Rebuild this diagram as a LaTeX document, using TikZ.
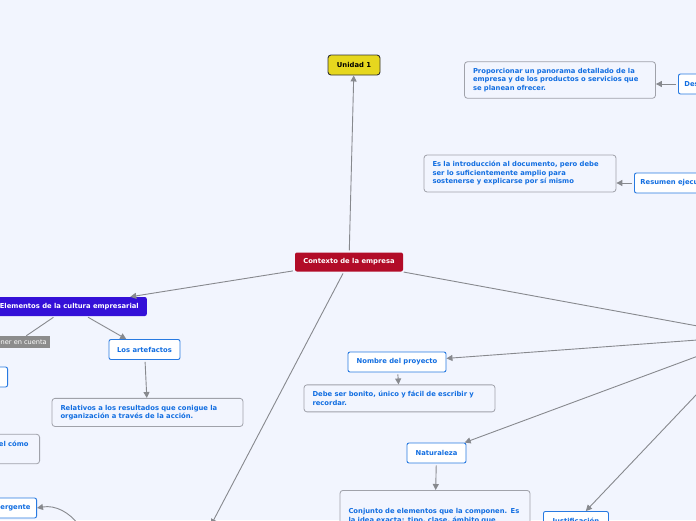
\documentclass[tikz,border=0pt]{standalone}
\usepackage{fontspec}
\setmainfont{DejaVu Sans}
\usetikzlibrary{positioning, arrows.meta}
\definecolor{bgmap}{RGB}{242,245,254}
\definecolor{ctxred}{RGB}{178,12,40}
\definecolor{elemblue}{RGB}{52,16,216}
\definecolor{unityellow}{RGB}{230,215,30}
\definecolor{topicblue}{RGB}{40,122,225}
\definecolor{textblue}{RGB}{18,110,225}
\definecolor{notegray}{RGB}{160,162,170}
\definecolor{edgegray}{RGB}{135,137,142}
\definecolor{labelgray}{RGB}{140,140,140}

\begin{document}
\begin{tikzpicture}[
        x = 1pt, y = -1pt,
        every node/.style = {font=\fontsize{6.8}{8.5}\selectfont\bfseries},
        topic/.style = {draw=topicblue, fill=white, line width=0.9pt, rounded corners=2pt, text=textblue, minimum height=20pt, inner xsep=6pt, inner ysep=0pt},
        note/.style = {draw=notegray, fill=bgmap, line width=0.8pt, rounded corners=3pt, text=textblue, align=left, inner xsep=8.5pt, inner ysep=6.5pt},
        root/.style = {fill=ctxred, text=white, rounded corners=2pt, minimum height=19pt, inner xsep=8pt, inner ysep=0pt},
        arrow/.style = {-{Triangle[length=6pt, width=6pt]}, draw=edgegray, line width=0.9pt, shorten <=2pt},
        link/.style = {draw=edgegray, line width=0.9pt, shorten <=2pt},
    ]
        \useasboundingbox (0,0) rectangle (696,520);
        \fill[bgmap] (0,0) rectangle (696,520);
        \clip (0,0) rectangle (696,520);

        % centre and top
        \node[root, minimum width=108pt] (ctx) at (349,262) {Contexto de la empresa};
        \node[draw=black!80, fill=unityellow, line width=0.9pt, rounded corners=3pt, minimum width=52pt, minimum height=20pt] (unidad) at (354,65) {Unidad 1};

        % right branch
        \coordinate (hub) at (752,336);
        \node[topic, anchor=west, minimum width=90pt] (desc) at (678,84) {Descripción de la empresa};
        \node[note, text width=174pt] (prop) at (560,80) {Proporcionar un panorama detallado de la\\empresa y de los productos o servicios que\\se planean ofrecer.};
        \node[topic, anchor=west, minimum width=80pt] (resumen) at (634,183) {Resumen ejecutivo};
        \node[note, text width=175pt] (esla) at (520,173.5) {Es la introducción al documento, pero debe\\ser lo suficientemente amplio para\\sostenerse y explicarse por sí mismo};
        \node[topic, minimum width=98pt] (nombre) at (397,362) {Nombre del proyecto};
        \node[note, text width=174pt, below=12pt of nombre, xshift=2.5pt] (debe) {Debe ser bonito, único y fácil de escribir y\\recordar.};
        \node[topic, minimum width=59pt] (natur) at (436.5,453) {Naturaleza};
        \node[note, text width=173pt, minimum height=60pt, anchor=north] (conj) at (435,490) {Conjunto de elementos que la componen. Es\\la idea exacta: tipo, clase, ámbito que\\abarca, contexto en el que se ubica desde el};
        \node[topic, anchor=north west, minimum width=65pt] (justif) at (543,511) {Justificación};

        % left branch
        \node[root, fill=elemblue, anchor=east] (elem) at (147,306.5) {Elementos de la cultura empresarial};
        \node[fill=labelgray, text=white, font=\fontsize{6.6}{8.5}\selectfont, anchor=east, minimum height=12pt, inner xsep=3pt, inner ysep=0pt] (tener) at (50,342) {A tener en cuenta};
        \node[topic, minimum width=71pt] (artef) at (144.5,349.5) {Los artefactos};
        \node[note, text width=174pt, below=38pt of artef, xshift=3pt] (relat) {Relativos a los resultados que conigue la\\organización a través de la acción.};
        \node[topic, anchor=east, minimum width=60pt] (izq) at (8,377) {};
        \node[note, anchor=east, text width=80pt, align=right, inner xsep=11pt, minimum height=28pt] (como) at (40,449) {el cómo\\\strut};
        \node[topic, anchor=east] (emerg) at (37,508) {Emergente};
        \coordinate (offbottom) at (211,525);
        \coordinate (curvesrc) at (80,527);

        \draw[arrow] (ctx) -- (unidad);
        \draw[arrow] (ctx) -- (elem);
        \draw[arrow] (ctx) -- (offbottom);
        \draw[link] (ctx) -- (hub);
        \draw[arrow] (desc) -- (desc -| prop.east);
        \draw[arrow] (resumen) -- (resumen -| esla.east);
        \draw[arrow] (hub) -- (nombre);
        \draw[arrow] (nombre) -- (debe);
        \draw[arrow] (hub) -- (natur);
        \draw[arrow] (natur) -- (conj);
        \draw[arrow] (hub) -- (justif);
        \draw[link] (elem) -- (tener);
        \draw[arrow] (elem) -- (artef);
        \draw[arrow] (artef) -- (relat);
        \draw[arrow] (curvesrc) to[out=125, in=10] (emerg.east);
    \end{tikzpicture}
\end{document}
